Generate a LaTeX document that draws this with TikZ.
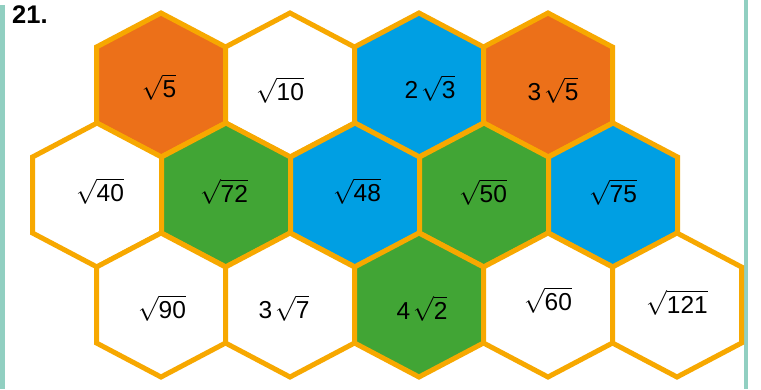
\documentclass[tikz,border=0pt]{standalone}
\usepackage{amsmath}
\usepackage{fontspec}
\setmainfont{Liberation Sans}
\definecolor{hexedge}{HTML}{F7A800}
\definecolor{hexorange}{HTML}{EC7019}
\definecolor{hexblue}{HTML}{009FE3}
\definecolor{hexgreen}{HTML}{41A535}
\definecolor{tealbar}{HTML}{91CFC1}
\newcommand{\hexcell}[4]{%
  \path[hexstyle, fill=#4] (#2,#3-72) -- (#2+64.5,#3-38) -- (#2+64.5,#3+38) -- (#2,#3+72) -- (#2-64.5,#3+38) -- (#2-64.5,#3-38) -- cycle;
  \coordinate (#1) at (#2,#3);}
\newcommand{\rt}[1]{\sqrt{\mbox{#1}}}
\tikzset{
  hexstyle/.style={draw=hexedge, line width=5pt, line join=miter},
  lbl/.style={anchor=base, inner sep=0pt, font=\fontsize{24.5}{29}\selectfont},
}
\begin{document}
\begin{tikzpicture}[x=1pt,y=-1pt]
\useasboundingbox[fill=white] (0,0) rectangle (761,389);
\fill[tealbar] (0,5) rectangle (4.5,389);
\fill[tealbar] (743.5,0) rectangle (748,389);
\node[anchor=base west, inner sep=0pt, font=\bfseries\fontsize{25.5}{30}\selectfont] (num) at (12,23.5) {21.};
% row 1
\hexcell{h11}{161}{85}{hexorange}
\hexcell{h12}{290}{85}{white}
\hexcell{h13}{419}{85}{hexblue}
\hexcell{h14}{548}{85}{hexorange}
% row 2
\hexcell{h21}{97}{195}{white}
\hexcell{h22}{226}{195}{hexgreen}
\hexcell{h23}{355}{195}{hexblue}
\hexcell{h24}{484}{195}{hexgreen}
\hexcell{h25}{613}{195}{hexblue}
% row 3
\hexcell{h31}{161}{305}{white}
\hexcell{h32}{290}{305}{white}
\hexcell{h33}{419}{305}{hexgreen}
\hexcell{h34}{548}{305}{white}
\hexcell{h35}{677}{305}{white}
% labels
\node[lbl] (t11) at (159,97) {$\rt{5}$};
\node[lbl] (t12) at (280,100) {$\rt{10}$};
\node[lbl] (t13) at (430,98) {$\mbox{2}\mskip2mu\rt{3}$};
\node[lbl] (t14) at (553,100) {$\mbox{3}\mskip2mu\rt{5}$};
\node[lbl] (t21) at (100,201) {$\rt{40}$};
\node[lbl] (t22) at (224,202) {$\rt{72}$};
\node[lbl] (t23) at (357,201) {$\rt{48}$};
\node[lbl] (t24) at (483,202) {$\rt{50}$};
\node[lbl] (t25) at (613,202) {$\rt{75}$};
\node[lbl] (t31) at (162,318) {$\rt{90}$};
\node[lbl] (t32) at (284,318) {$\mbox{3}\mskip2mu\rt{7}$};
\node[lbl] (t33) at (422,319) {$\mbox{4}\mskip2mu\rt{2}$};
\node[lbl] (t34) at (548,310) {$\rt{60}$};
\node[lbl] (t35) at (677,313) {$\rt{121}$};
\end{tikzpicture}
\end{document}
